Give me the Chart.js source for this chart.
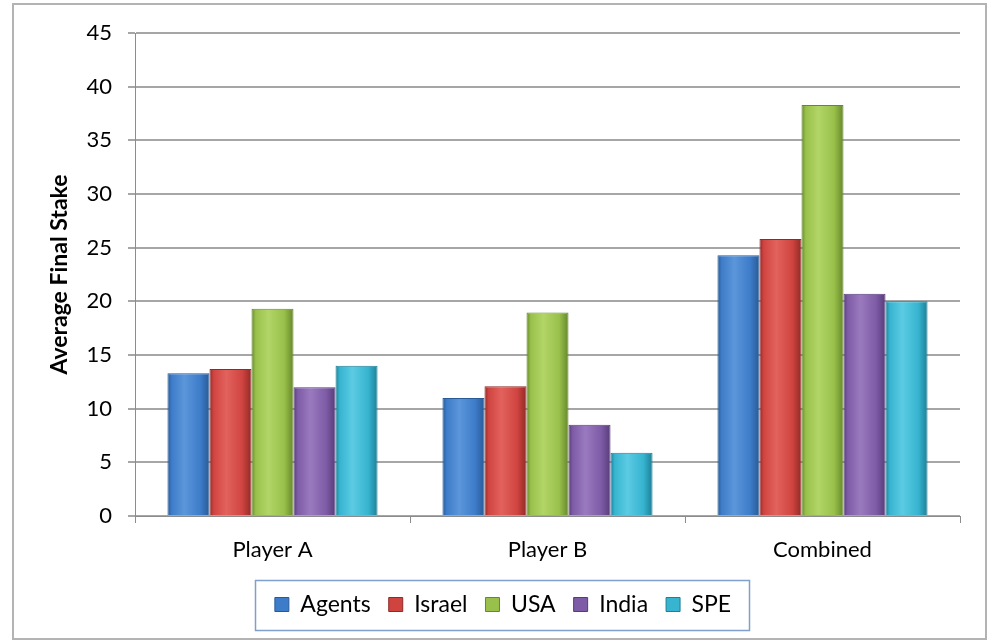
<!DOCTYPE html>
<html>
<head>
<meta charset="utf-8">
<script src="https://cdn.jsdelivr.net/npm/chart.js@4.4.1/dist/chart.umd.min.js"></script>
<style>
  html, body { margin: 0; padding: 0; background: #fff; }
  #wrap { position: relative; width: 989px; height: 640px; }
  #frame { position: absolute; left: 12px; top: 3px; width: 975px; height: 637px; border: 2px solid #b3b3b3; box-sizing: border-box; pointer-events: none; }
  canvas { position: absolute; left: 0; top: 0; }
</style>
</head>
<body>
<div id="wrap">
  <canvas id="c" width="989" height="640"></canvas>
  <div id="frame"></div>
</div>
<script>
const categories = ["Player A", "Player B", "Combined"];
const seriesNames = ["Agents", "Israel", "USA", "India", "SPE"];
const agents = [13.3, 11.0, 24.3];
const israel = [13.7, 12.1, 25.8];
const usa    = [19.3, 18.95, 38.3];
const india  = [12.0, 8.5, 20.7];
const spe    = [14.0, 5.9, 20.0];
const yTicks = [0, 5, 10, 15, 20, 25, 30, 35, 40, 45];

const baseColors = ["#3d7cc9", "#d04440", "#98c04a", "#7e5ba6", "#36b4d0"];
const darkColors = ["#285a96", "#8f2a27", "#66872c", "#553c78", "#1f7f96"];
const lightColors = ["#5c96da", "#e2625d", "#b2d567", "#9a7abf", "#5ccbe3"];
const seriesValues = [agents, israel, usa, india, spe];

const FONT = "Lato, 'Open Sans', 'Liberation Sans', sans-serif";

const gradientPlugin = {
  id: 'barGradient',
  beforeDatasetsDraw(chart) {
    const ctx = chart.ctx;
    chart.data.datasets.forEach((ds, di) => {
      const meta = chart.getDatasetMeta(di);
      meta.data.forEach(el => {
        const left = el.x - el.width / 2, right = el.x + el.width / 2;
        const g = ctx.createLinearGradient(left, 0, right, 0);
        g.addColorStop(0, darkColors[di]);
        g.addColorStop(0.1, baseColors[di]);
        g.addColorStop(0.4, lightColors[di]);
        g.addColorStop(0.78, baseColors[di]);
        g.addColorStop(1, darkColors[di]);
        el.options = Object.assign(Object.create(Object.getPrototypeOf(el.options)), el.options, { backgroundColor: g });
      });
    });
  }
};

const legendBoxPlugin = {
  id: 'legendBox',
  afterDraw(chart) {
    const lg = chart.legend;
    if (!lg || !lg.legendHitBoxes || !lg.legendHitBoxes.length) return;
    const hb = lg.legendHitBoxes;
    let minX = Infinity, maxX = -Infinity, minY = Infinity, maxY = -Infinity;
    hb.forEach(b => { minX = Math.min(minX, b.left); maxX = Math.max(maxX, b.left + b.width); minY = Math.min(minY, b.top); maxY = Math.max(maxY, b.top + b.height); });
    const ctx = chart.ctx;
    ctx.save();
    ctx.strokeStyle = '#7f9fcf';
    ctx.lineWidth = 1.5;
    const cy = (minY + maxY) / 2;
    ctx.strokeRect(Math.round(minX - 20) + 0.5, Math.round(cy - 25) + 0.5, Math.round(maxX - minX + 38), 50);
    ctx.restore();
  }
};

new Chart(document.getElementById('c'), {
  type: 'bar',
  data: {
    labels: categories,
    datasets: seriesNames.map((n, i) => ({
      label: n,
      data: seriesValues[i],
      backgroundColor: baseColors[i],
      borderColor: darkColors[i],
      borderWidth: 1,
      barPercentage: 1.0,
      categoryPercentage: 0.764
    }))
  },
  options: {
    responsive: false,
    animation: false,
    devicePixelRatio: 1,
    layout: { padding: { left: 46, right: 29, top: 33, bottom: 14 } },
    plugins: {
      tooltip: { enabled: false },
      legend: {
        position: 'bottom',
        labels: {
          font: { family: FONT, size: 23 },
          color: '#000',
          boxWidth: 14,
          boxHeight: 14,
          padding: 18,
          generateLabels(chart) {
            return chart.data.datasets.map((ds, i) => ({
              text: ds.label,
              fillStyle: baseColors[i],
              strokeStyle: darkColors[i],
              lineWidth: 1,
              datasetIndex: i,
              fontColor: '#000'
            }));
          }
        }
      }
    },
    scales: {
      x: {
        offset: true,
        grid: { display: true, drawOnChartArea: false, drawTicks: true, tickLength: 7, color: '#8c8c8c', offset: true },
        border: { display: true, color: '#8c8c8c', width: 1 },
        ticks: { font: { family: FONT, size: 22 }, color: '#000', padding: 14 },
        afterFit(scale) { scale.height = 59; }
      },
      y: {
        min: 0, max: 45,
        afterBuildTicks(scale) { scale.ticks = yTicks.map(v => ({ value: v })); },
        grid: { color: '#a6a6a6', lineWidth: 2, tickLength: 7, drawTicks: true },
        border: { display: true, color: '#8c8c8c', width: 1 },
        ticks: { font: { family: FONT, size: 22 }, color: '#000', padding: 16 },
        title: { display: true, text: 'Average Final Stake', font: { family: FONT, size: 23, weight: 'bold' }, color: '#000', padding: { top: 0, bottom: 0 } },
        afterFit(scale) { scale.width = 89; }
      }
    }
  },
  plugins: [gradientPlugin, legendBoxPlugin]
});
</script>
</body>
</html>
